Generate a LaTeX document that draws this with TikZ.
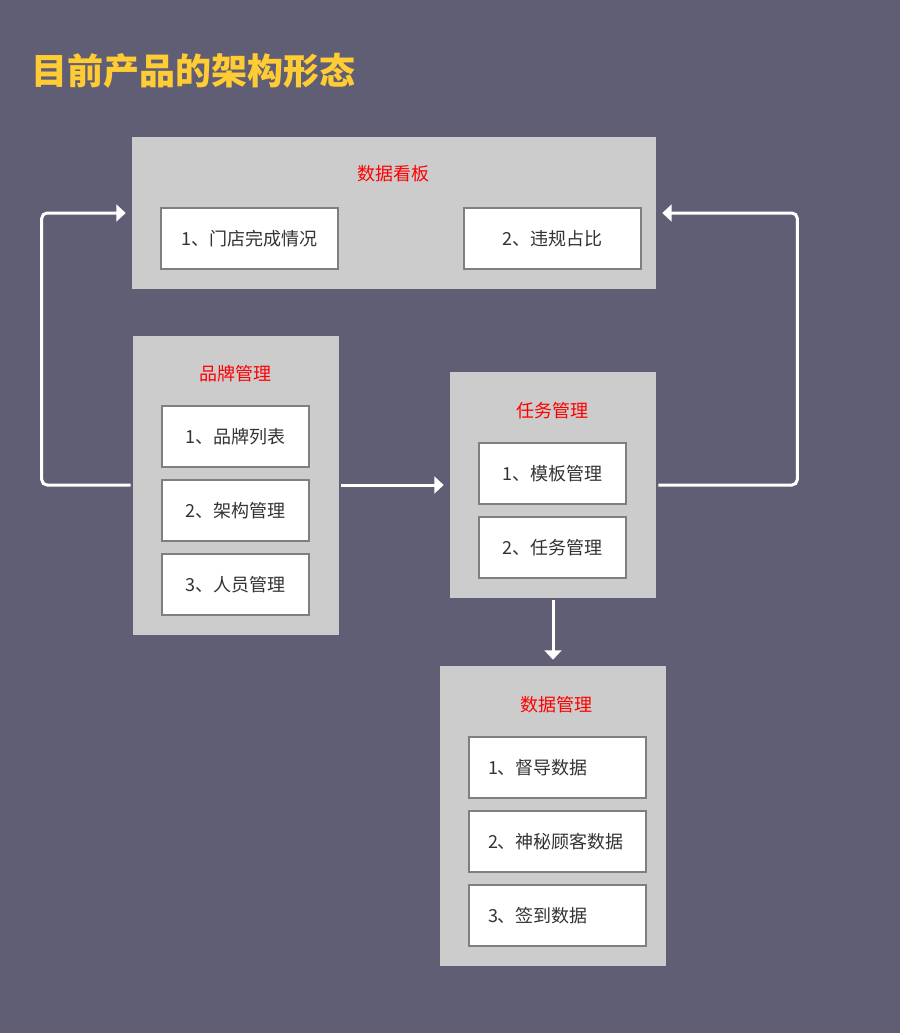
\documentclass[tikz,border=0pt]{standalone}
\usepackage{fontspec}
\setmainfont{Noto Sans CJK SC}
\usetikzlibrary{arrows.meta}
\definecolor{bgc}{HTML}{605E75}
\definecolor{panelc}{HTML}{CCCCCC}
\definecolor{innerborder}{HTML}{7F7F7F}
\definecolor{titlec}{HTML}{FFCC33}
\definecolor{txtc}{HTML}{333333}
\tikzset{
  panel/.style={fill=panelc, draw=none, inner sep=0pt, anchor=center},
  itembox/.style={fill=white, draw=innerborder, line width=1.5pt, inner sep=0pt,
    minimum height=61*0.75pt, text=txtc, font=\fontsize{13.5pt}{16pt}\selectfont},
  itemleft/.style={itembox, text width=139*0.75pt, inner xsep=19*0.75pt, align=left},
  ptitle/.style={text=red, font=\fontsize{13.5pt}{16pt}\selectfont, inner sep=0pt},
  conn/.style={draw=white, line width=2.25pt, rounded corners=4pt,
    -{Triangle[width=12.5pt,length=7pt]}, shorten <=1.5pt, shorten >=4.5pt}
}
\begin{document}
\begin{tikzpicture}[x=0.75pt,y=-0.75pt]
\useasboundingbox[fill=bgc] (0,0) rectangle (900,1033);
% title
\node[anchor=west, text=titlec, inner sep=0pt, font=\fontsize{27pt}{30pt}\selectfont\bfseries] (title) at (31,71) {目前产品的架构形态};
% panels
\node[panel, minimum width=524*0.75pt, minimum height=152*0.75pt] (top) at (394,213) {};
\node[panel, minimum width=206*0.75pt, minimum height=299*0.75pt] (brand) at (236,485) {};
\node[panel, minimum width=206*0.75pt, minimum height=226*0.75pt] (task) at (553,485) {};
\node[panel, minimum width=226*0.75pt, minimum height=300*0.75pt] (data) at (553,816) {};
% panel titles
\node[ptitle] (topt) at (393,174) {数据看板};
\node[ptitle] (brandt) at (235,374) {品牌管理};
\node[ptitle] (taskt) at (552,411) {任务管理};
\node[ptitle] (datat) at (556,705) {数据管理};
% items
\node[itembox, minimum width=177*0.75pt] (t1) at (249.5,238.5) {1、门店完成情况};
\node[itembox, minimum width=177*0.75pt] (t2) at (552.5,238.5) {2、违规占比};
\node[itembox, minimum width=147*0.75pt] (b1) at (235.5,436.5) {1、品牌列表};
\node[itembox, minimum width=147*0.75pt] (b2) at (235.5,510.5) {2、架构管理};
\node[itembox, minimum width=147*0.75pt] (b3) at (235.5,584.5) {3、人员管理};
\node[itembox, minimum width=147*0.75pt] (k1) at (552.5,473.5) {1、模板管理};
\node[itembox, minimum width=147*0.75pt] (k2) at (552.5,547.5) {2、任务管理};
\node[itemleft] (d1) at (557.5,767.5) {1、督导数据};
\node[itemleft] (d2) at (557.5,841.5) {2、神秘顾客数据};
\node[itemleft] (d3) at (557.5,915.5) {3、签到数据};
% connectors
\draw[conn] (brand.west) -- ++(-91,0) |- (top.west);
\draw[conn] (brand.east) -- (task.west);
\draw[conn] (task.east) -- ++(141,0) |- (top.east);
\draw[conn] (task.south) -- (data.north);
\end{tikzpicture}
\end{document}
